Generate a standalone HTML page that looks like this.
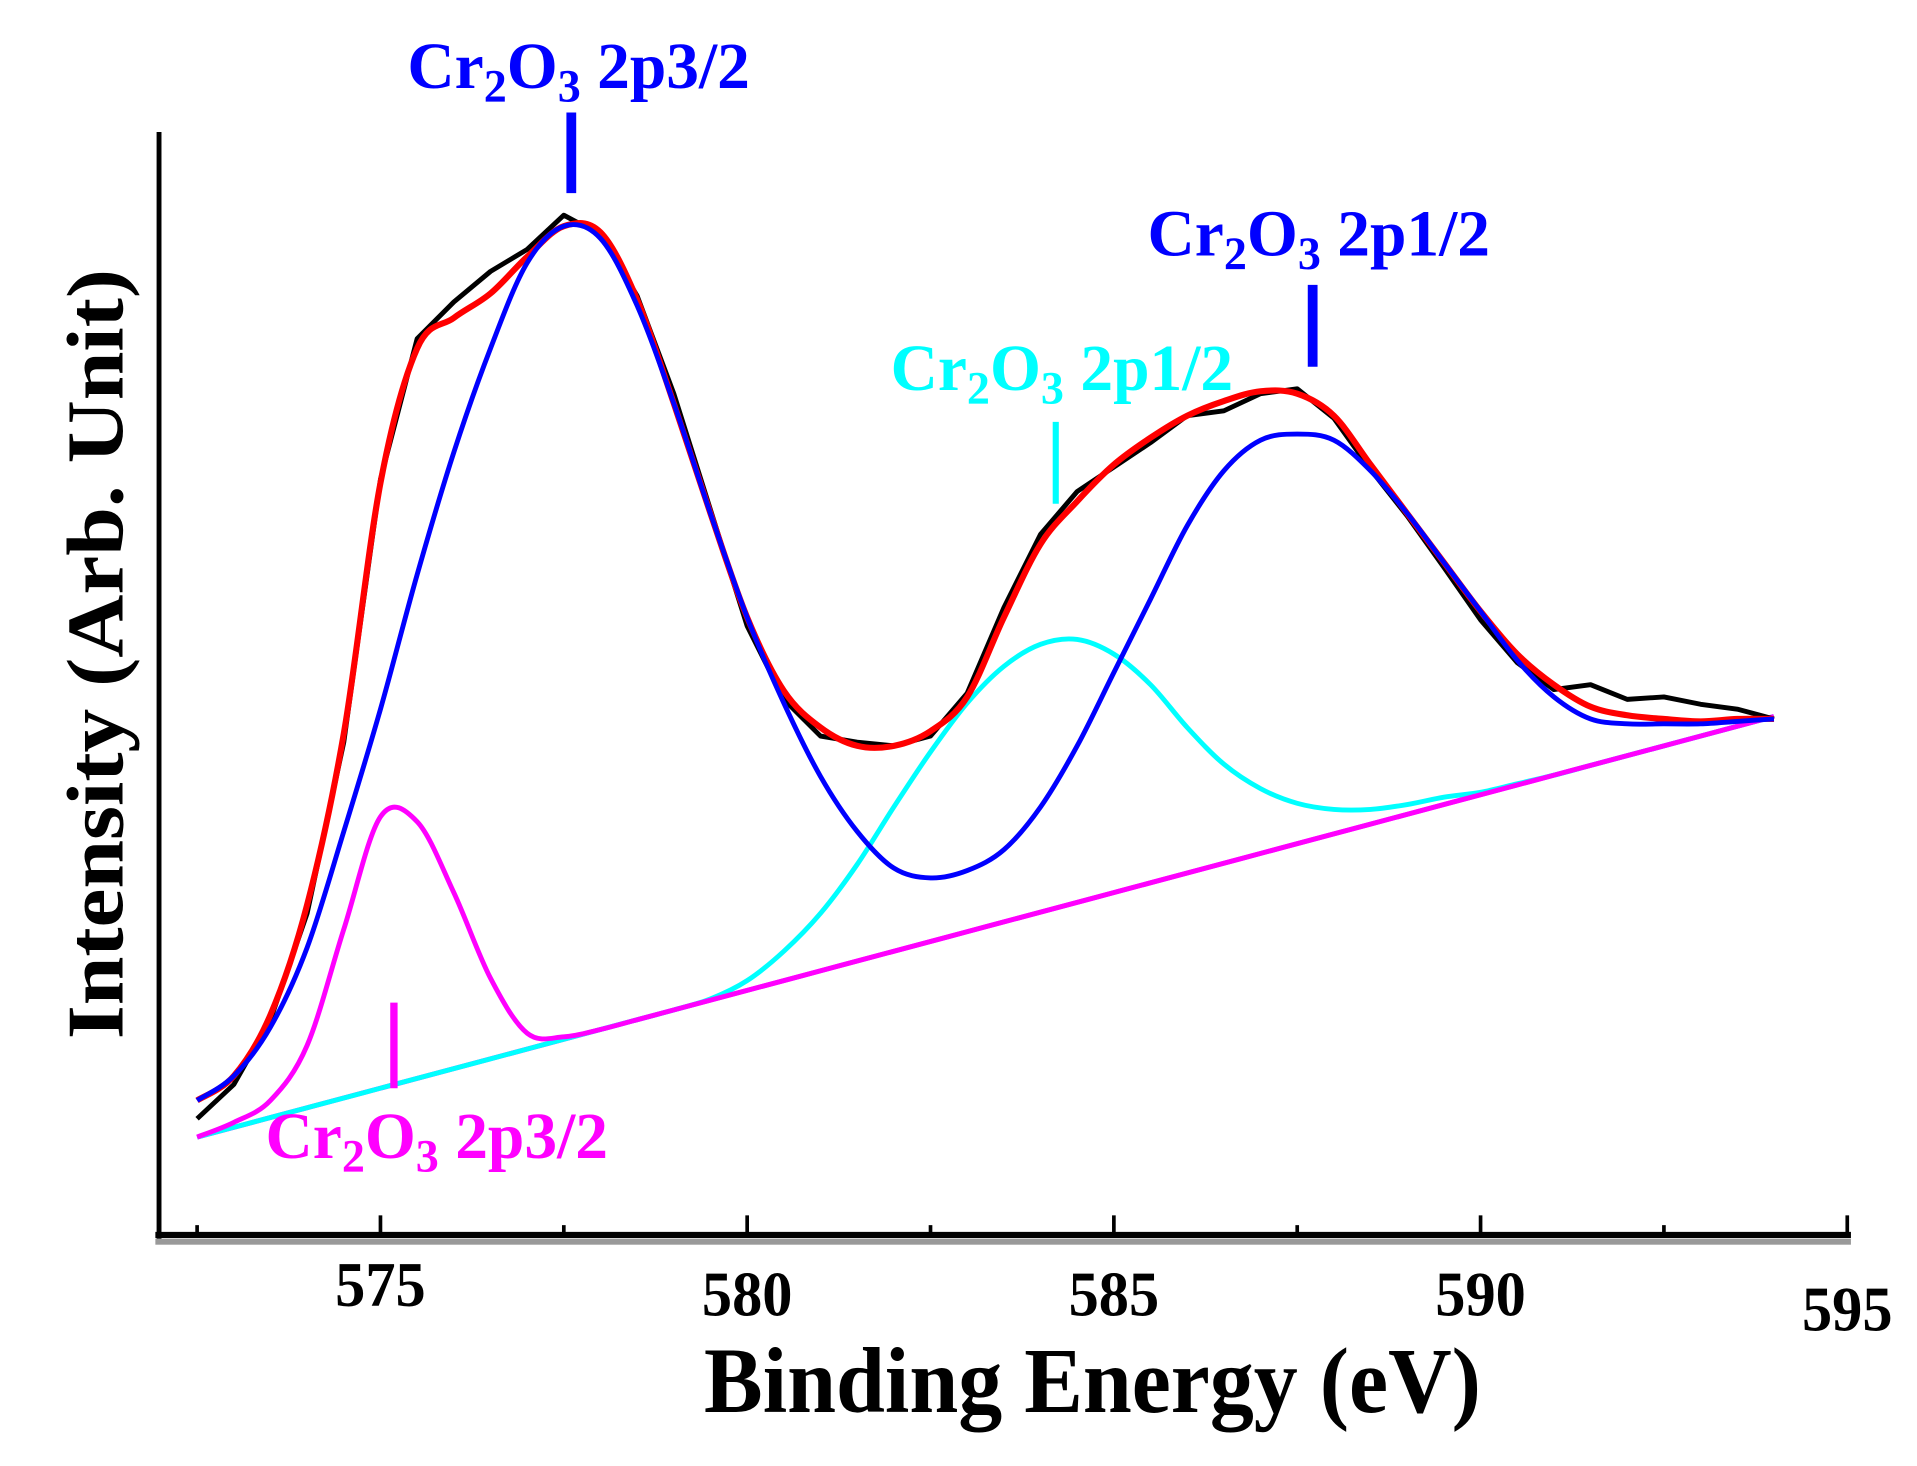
<!DOCTYPE html>
<html><head><meta charset="utf-8"><style>
html,body{margin:0;padding:0;background:#fff;}
svg{display:block;}
</style></head><body>
<svg id="chart" width="1917" height="1466" viewBox="0 0 1567 1199" preserveAspectRatio="none" xmlns="http://www.w3.org/2000/svg" font-family="'Liberation Serif', serif" font-weight="bold">
<g id="axes"></g>
<g id="series"></g>
<g id="labels"></g>
</svg>
<script>
const energies = [572.5,573,573.5,574,574.5,575,575.5,576,576.5,577,577.5,578,578.5,579,579.5,580,580.5,581,581.5,582,582.5,583,583.5,584,584.5,585,585.5,586,586.5,587,587.5,588,588.5,589,589.5,590,590.5,591,591.5,592,592.5,593,593.5,594];
const backgroundE = [572.5,594];
const backgroundI = [82,426];
const magentaI = [82,94,112,157,252,344,340,282,212,167,164,170,178,186,194,202,210,218,226,234,242,250,258,266,274,282,290,298,306,314,322,330,338,346,354,362,370,378,386,394,402,410,418,426];
const cyanI = [82,90,98,106,114,122,130,138,146,154,162,170,178,186,195,210,234,265,305,352,397,437,467,485,489,477,452,417,387,367,355,350,350,354,360,364,371,378,386,394,402,410,418,426];
const blueI = [112,132,172,237,332,432,542,642,727,797,827,817,762,682,592,507,437,377,332,302,294,300,317,352,402,462,522,582,627,652,657,652,627,592,552,512,472,442,424,420,420,420,422,424];
const redI = [112,132,182,272,412,617,727,752,772,802,827,822,767,682,592,507,447,417,402,402,414,442,507,567,602,632,654,672,684,692,690,672,632,592,552,512,477,452,434,427,424,422,424,424];
const dataI = [97,125,178,265,405,620,735,765,790,808,836,820,770,690,595,500,440,410,405,402,410,445,515,575,610,630,650,672,676,690,694,670,628,590,548,505,470,448,452,440,442,436,432,424];
const majorTicks = [575,580,585,590,595];
const minorTicks = [572.5,577.5,582.5,587.5,592.5];
const tickLabels = ["575","580","585","590","595"];

const NS = "http://www.w3.org/2000/svg";
const xS = e => 311 + (e - 575) * 59.95;
const yS = v => 1012 - v;
function mk(tag, attrs, parent, text){
  const el = document.createElementNS(NS, tag);
  for (const k in attrs) el.setAttribute(k, attrs[k]);
  if (text !== undefined) el.textContent = text;
  parent.appendChild(el); return el;
}
function smooth(pts){
  let d = "M" + pts[0][0] + "," + pts[0][1];
  for (let i = 0; i < pts.length - 1; i++){
    const p0 = pts[Math.max(0,i-1)], p1 = pts[i], p2 = pts[i+1], p3 = pts[Math.min(pts.length-1,i+2)];
    const c1 = [p1[0]+(p2[0]-p0[0])/6, p1[1]+(p2[1]-p0[1])/6];
    const c2 = [p2[0]-(p3[0]-p1[0])/6, p2[1]-(p3[1]-p1[1])/6];
    d += " C"+c1[0]+","+c1[1]+" "+c2[0]+","+c2[1]+" "+p2[0]+","+p2[1];
  }
  return d;
}
const axes = document.getElementById('axes');
const series = document.getElementById('series');
const labels = document.getElementById('labels');

const yAxis = mk('line',{x1:130,y1:108,x2:130,y2:1015,stroke:'#000','stroke-width':4},axes);


const xBand = mk('rect',{x:127,y:1013,width:1386,height:5,fill:'#999'},axes);


const xAxis = mk('line',{x1:127,y1:1010,x2:1513,y2:1010,stroke:'#000','stroke-width':5},axes);


majorTicks.forEach((t,i)=>{
  const tk = mk('line',{x1:xS(t),y1:1010,x2:xS(t),y2:994,stroke:'#000','stroke-width':3},axes);
  
  
  const ty = i===4 ? 1088 : (i===0 ? 1068 : 1076);
  const lb = mk('text',{x:xS(t),y:ty,'text-anchor':'middle','font-size':52,textLength:74,lengthAdjust:'spacingAndGlyphs'},axes,tickLabels[i]);
  
  
});
minorTicks.forEach(t=>{
  const tk = mk('line',{x1:xS(t),y1:1010,x2:xS(t),y2:1002,stroke:'#000','stroke-width':3},axes);
  
  
});
const xt = mk('text',{x:893,y:1155,'text-anchor':'middle','font-size':76,textLength:635,lengthAdjust:'spacingAndGlyphs'},labels,'Binding Energy (eV)');


const yt = mk('text',{x:0,y:0,'text-anchor':'middle','font-size':66,textLength:630,lengthAdjust:'spacingAndGlyphs',transform:'translate(100,535) rotate(-90)'},labels,'Intensity (Arb. Unit)');



const bg = mk('line',{x1:xS(backgroundE[0]),y1:yS(backgroundI[0]),x2:xS(backgroundE[1]),y2:yS(backgroundI[1]),stroke:'#ff00ff','stroke-width':4},series);


function curve(vals,color,w,isSmooth){
  const pts = energies.map((e,i)=>[xS(e),yS(vals[i])]);
  const d = isSmooth ? smooth(pts) : "M"+pts.map(p=>p[0]+","+p[1]).join(" L");
  return mk('path',{d:d,fill:'none',stroke:color,'stroke-width':w,'stroke-linejoin':'round'},series);
}
const cy = curve(cyanI,'#00ffff',4,true);


const mg = curve(magentaI,'#ff00ff',4,true);


const dt = curve(dataI,'#000',4,false);


const rd = curve(redI,'#ff0000',5,true);


const bl = curve(blueI,'#0000ff',4,true);



function annot(name,tx,ty,color,lx,ly1,ly2,lw,suffix){
  const g = mk('g',{},labels);
  
  
  mk('line',{x1:lx,y1:ly1,x2:lx,y2:ly2,stroke:color,'stroke-width':lw},g);
  const t = mk('text',{x:tx,y:ty,fill:color,'font-size':54,textLength:280,lengthAdjust:'spacingAndGlyphs'},g);
  mk('tspan',{},t,'Cr');
  mk('tspan',{'font-size':38,dy:11},t,'2');
  mk('tspan',{dy:-11},t,'O');
  mk('tspan',{'font-size':38,dy:11},t,'3');
  mk('tspan',{dy:-11},t,' 2p'+suffix);
}
annot('label-2p3-2-main',333,72,'#0000ff',467,92,158,8,'3/2');
annot('label-2p1-2-main',938,209,'#0000ff',1073,233,300,8,'1/2');
annot('label-2p1-2-satellite',728,319,'#00ffff',863,345,412,5,'1/2');
annot('label-2p3-2-satellite',217,947,'#ff00ff',322,820,890,6,'3/2');
</script>
</body></html>
